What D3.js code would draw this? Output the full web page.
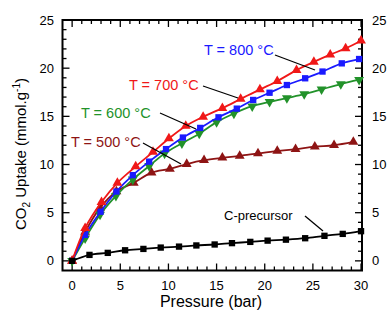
<!DOCTYPE html>
<html>
<head>
<meta charset="utf-8">
<script src="https://cdn.jsdelivr.net/npm/d3@7"></script>
<style>
  body { margin: 0; background: #fff; }
  text { font-family: Arial, "Liberation Sans", sans-serif; }
</style>
</head>
<body>
<div id="chart"></div>
<script>
var width = 387;
var height = 314;

// pressure (bar) and uptake (mmol/g)
var p800 = [0, 1.35, 2.95, 4.6, 6.3, 8.0, 9.75, 11.5, 13.3, 15.2, 17.1, 18.8, 20.5, 22.3, 24.2, 26.0, 28.0, 29.8];
var u800 = [0, 2.7, 5.1, 7.2, 8.9, 10.3, 11.6, 12.8, 13.8, 14.9, 15.8, 16.7, 17.45, 18.25, 18.95, 19.65, 20.5, 20.95];

var p700 = [0, 1.35, 3.05, 4.7, 6.6, 8.4, 10.05, 11.8, 13.6, 15.6, 17.5, 19.5, 21.3, 23.3, 25.1, 26.8, 28.4, 30];
var u700 = [0, 3.4, 6.1, 8.1, 9.8, 11.3, 12.7, 14.0, 14.95, 15.85, 16.8, 17.8, 18.65, 19.8, 20.65, 21.4, 22.05, 22.85];

var p600 = [0, 1.35, 2.9, 4.55, 6.3, 8.0, 9.6, 11.4, 13.2, 15.0, 16.8, 18.7, 20.5, 22.3, 24.1, 25.9, 27.9, 29.8];
var u600 = [0, 2.35, 4.8, 6.75, 8.45, 9.85, 11.15, 12.2, 13.2, 14.4, 15.3, 16.05, 16.5, 16.9, 17.3, 17.8, 18.35, 18.8];

var p500 = [0, 1.35, 2.9, 4.6, 6.4, 8.25, 10.15, 11.9, 13.7, 15.6, 17.4, 19.3, 21.3, 23.2, 25.2, 27.2, 29.2];
var u500 = [0, 3.0, 5.5, 7.2, 8.1, 9.15, 9.55, 10.05, 10.45, 10.7, 10.9, 11.15, 11.4, 11.6, 11.85, 12.0, 12.35];

var pPre = [0, 1.8, 3.7, 5.5, 7.4, 9.2, 11.1, 12.9, 14.8, 16.6, 18.5, 20.3, 22.2, 24.2, 26.2, 28.1, 30];
var uPre = [0, 0.62, 0.83, 1.1, 1.24, 1.38, 1.48, 1.6, 1.7, 1.84, 1.97, 2.1, 2.2, 2.35, 2.6, 2.8, 3.08];

var xTicks = [0, 5, 10, 15, 20, 25, 30];
var yTicks = [0, 5, 10, 15, 20, 25];

var series = [
  {name: "T = 500 \u00B0C", p: p500, u: u500, color: "#8e1414", symbol: "up"},
  {name: "T = 600 \u00B0C", p: p600, u: u600, color: "#22922a", symbol: "down"},
  {name: "T = 800 \u00B0C", p: p800, u: u800, color: "#1a1aff", symbol: "square"},
  {name: "T = 700 \u00B0C", p: p700, u: u700, color: "#f01818", symbol: "up"},
  {name: "C-precursor", p: pPre, u: uPre, color: "#000000", symbol: "square"}
];

var plotL = 62.5, plotR = 362, plotT = 20, plotB = 270.5;

var x = d3.scaleLinear().domain([-1, 30.1]).range([plotL, plotR]);
var y = d3.scaleLinear().domain([-1, 25]).range([plotB, plotT]);

var svg = d3.select("#chart")
            .append("svg")
            .attr("width", width)
            .attr("height", height);

// ticks inward on all four sides
var minorX = d3.range(0, 31, 1);
var minorY = d3.range(0, 26, 1);

var gTicks = svg.append("g").attr("stroke", "#000").attr("stroke-width", 1.3);

minorX.forEach(function(v) {
  var len = v % 5 === 0 ? 7 : 4;
  gTicks.append("line").attr("x1", x(v)).attr("x2", x(v)).attr("y1", plotB).attr("y2", plotB - len);
  gTicks.append("line").attr("x1", x(v)).attr("x2", x(v)).attr("y1", plotT).attr("y2", plotT + len);
});
minorY.forEach(function(v) {
  var len = v % 5 === 0 ? 7 : 4;
  gTicks.append("line").attr("y1", y(v)).attr("y2", y(v)).attr("x1", plotL).attr("x2", plotL + len);
  gTicks.append("line").attr("y1", y(v)).attr("y2", y(v)).attr("x1", plotR).attr("x2", plotR - len);
});

svg.append("rect")
   .attr("x", plotL).attr("y", plotT)
   .attr("width", plotR - plotL).attr("height", plotB - plotT)
   .attr("fill", "none")
   .attr("stroke", "#000")
   .attr("stroke-width", 2);

// tick labels
svg.selectAll(".xl").data(xTicks).enter().append("text")
   .attr("x", function(d) { return x(d); })
   .attr("y", 290)
   .attr("text-anchor", "middle")
   .attr("font-size", 13)
   .text(function(d) { return d; });

svg.selectAll(".yl").data(yTicks).enter().append("text")
   .attr("x", 54)
   .attr("y", function(d) { return y(d) + 4.5; })
   .attr("text-anchor", "end")
   .attr("font-size", 13)
   .text(function(d) { return d; });

svg.selectAll(".yr").data(yTicks).enter().append("text")
   .attr("x", 372)
   .attr("y", function(d) { return y(d) + 4.5; })
   .attr("text-anchor", "start")
   .attr("font-size", 13)
   .text(function(d) { return d; });

// axis titles
svg.append("text")
   .attr("x", 211).attr("y", 307)
   .attr("text-anchor", "middle")
   .attr("font-size", 16)
   .text("Pressure (bar)");

var yt = svg.append("text")
   .attr("transform", "translate(26,154) rotate(-90)")
   .attr("text-anchor", "middle")
   .attr("font-size", 15);
yt.append("tspan").text("CO");
yt.append("tspan").attr("font-size", 10).attr("dy", 4).text("2");
yt.append("tspan").attr("dy", -4).text(" Uptake (mmol.g");
yt.append("tspan").attr("font-size", 10).attr("dy", -6).text("-1");
yt.append("tspan").attr("dy", 6).text(")");

// curves
var line = d3.line()
  .x(function(d) { return x(d[0]); })
  .y(function(d) { return y(d[1]); })
  .curve(d3.curveCatmullRom);

var tri = d3.symbol().type(d3.symbolTriangle).size(42);
var sq = d3.symbol().type(d3.symbolSquare).size(40);

series.forEach(function(s) {
  var pts = s.p.map(function(v, i) { return [v, s.u[i]]; });
  var g = svg.append("g");
  g.append("path")
   .datum(pts)
   .attr("d", line)
   .attr("fill", "none")
   .attr("stroke", s.color)
   .attr("stroke-width", 1.8);
  g.selectAll("path.m")
   .data(pts)
   .enter()
   .append("path")
   .attr("class", "m")
   .attr("d", s.symbol === "square" ? sq : tri)
   .attr("transform", function(d) {
     var r = s.symbol === "down" ? " rotate(180)" : "";
     return "translate(" + x(d[0]) + "," + y(d[1]) + ")" + r;
   })
   .attr("fill", s.color);
});

// labels with pointer lines
var labels = [
  {text: "T = 800 \u00B0C", color: "#1a1aff", lx: 204, ly: 55, x1: 275, y1: 55, x2: 315, y2: 70},
  {text: "T = 700 \u00B0C", color: "#f01818", lx: 129, ly: 90, x1: 203, y1: 86, x2: 238, y2: 98},
  {text: "T = 600 \u00B0C", color: "#22922a", lx: 81, ly: 118, x1: 160, y1: 113, x2: 196, y2: 129},
  {text: "T = 500 \u00B0C", color: "#8e1414", lx: 71, ly: 147, x1: 143, y1: 143, x2: 181, y2: 164},
  {text: "C-precursor", color: "#000", lx: 224, ly: 220, x1: 305, y1: 216, x2: 323, y2: 231}
];

labels.forEach(function(l) {
  svg.append("text")
     .attr("x", l.lx).attr("y", l.ly)
     .attr("font-size", l.text === "C-precursor" ? 13 : 14.5)
     .attr("fill", l.color)
     .text(l.text);
  svg.append("line")
     .attr("x1", l.x1).attr("y1", l.y1)
     .attr("x2", l.x2).attr("y2", l.y2)
     .attr("stroke", "#000")
     .attr("stroke-width", 1.3);
});
</script>
</body>
</html>
